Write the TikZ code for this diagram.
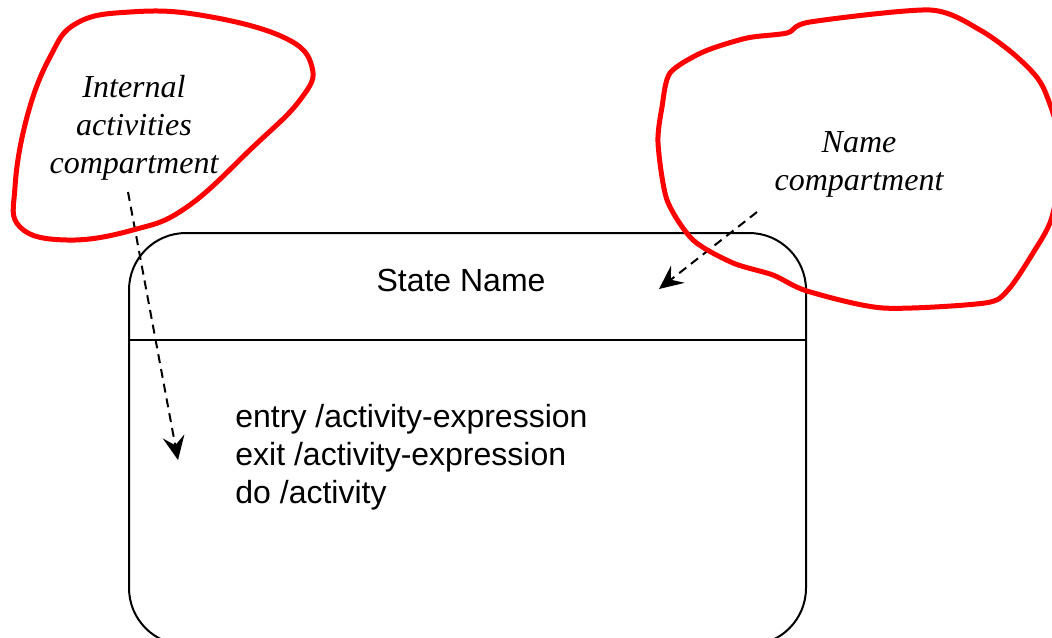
\documentclass[tikz,border=0pt]{standalone}
\usepackage{fontspec}
\setmainfont{Liberation Sans}
\newfontfamily\notefont{Liberation Serif}
\usetikzlibrary{arrows.meta}

\begin{document}
\begin{tikzpicture}[x=0.5pt, y=-0.5pt,
  note/.style={font=\notefont\itshape\fontsize{16}{19}\selectfont, align=center, inner sep=0pt},
  body/.style={font=\fontsize{16}{19}\selectfont, inner sep=0pt},
  pointer/.style={-{Stealth[length=12pt, width=11pt, inset=4.5pt]}, dash pattern=on 4.5pt off 3pt, line width=1pt},
  blob/.style={draw=red, line width=2.5pt, line join=round}]
  \clip (0,0) rectangle (1052,637);

  \draw[line width=1pt, rounded corners=28.5pt] (129,233) coordinate (tl) rectangle (806,645) coordinate (br);
  \draw[line width=1pt] (129,340) coordinate (ml) -- (806,340) coordinate (mr);

  \node[body] (n) at (461,280) {State Name};
  \node[body, align=left, anchor=west] (acts) at (235,457) {entry /activity-expression\\exit /activity-expression\\do /activity};

  \node[note] (int) at (134,128) {Internal\\activities\\compartment};
  \node[note] (nm) at (859,164) {Name\\compartment};

  \coordinate (s1) at (128,192);
  \coordinate (e1) at (178,460);
  \coordinate (s2) at (757,212);
  \coordinate (e2) at (659,289);
  \draw[pointer] (s1) -- (e1);
  \draw[pointer] (s2) -- (e2);

  \draw[blob] plot[smooth cycle, tension=0.7] coordinates {(77,23) (130,12) (200,15) (283,37) (312,67) (300,100) (253,147) (187,207) (133,230) (67,240) (20,227) (15,187) (27,117) (50,57)};
  \draw[blob] plot[smooth cycle, tension=0.45] coordinates {(670,73) (703,52) (747,38) (787,33) (810,22) (930,10) (980,30) (1017,57) (1043,87) (1062,150) (1052,217) (1033,253) (1008,290) (985,303) (883,308) (807,291) (773,275) (733,263) (693,240) (667,200) (658,143) (662,107)};
\end{tikzpicture}
\end{document}
